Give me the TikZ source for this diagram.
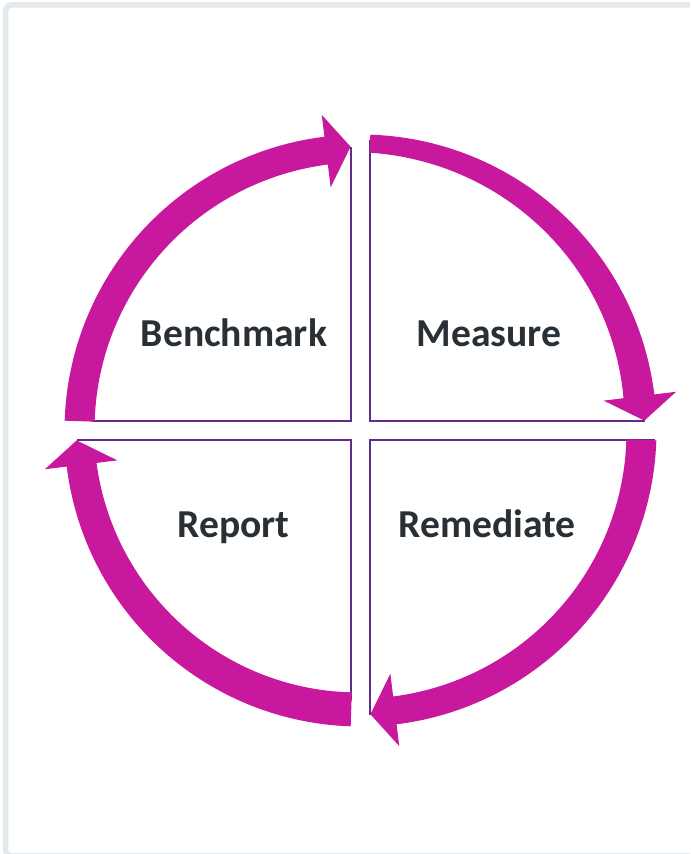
\documentclass[tikz,border=0pt]{standalone}
\usepackage{fontspec}
\setmainfont{Carlito}
\definecolor{arrowmag}{RGB}{200,24,158}
\definecolor{edgepurple}{RGB}{98,44,138}
\definecolor{labelgray}{RGB}{40,47,53}
\definecolor{framegray}{RGB}{228,233,238}
% #1 base angle, #2 inner radius at start, #3 inner radius at head
\newcommand{\cyarrow}[3]{%
  \pgfmathsetmacro{\cyA}{#1+1.9}%
  \pgfmathsetmacro{\cyB}{#1+83}%
  \pgfmathsetmacro{\cyT}{#1+88}%
  \pgfmathsetmacro{\cyRs}{#2}%
  \pgfmathsetmacro{\cyRe}{#3}%
  \fill[arrowfill] plot[domain=\cyA:\cyB,samples=60] ({360.5+296*cos(\x)},{430.5+296*sin(\x)})
    -- ({360.5+318*cos(\cyB)},{430.5+318*sin(\cyB)})
    -- ({360.5+284*cos(\cyT)},{430.5+284*sin(\cyT)})
    -- ({360.5+245*cos(\cyB)},{430.5+245*sin(\cyB)})
    -- plot[domain=\cyB:\cyA,samples=60] ({360.5+(\cyRs+(\cyRe-\cyRs)*(\x-\cyA)/(\cyB-\cyA))*cos(\x)},{430.5+(\cyRs+(\cyRe-\cyRs)*(\x-\cyA)/(\cyB-\cyA))*sin(\x)})
    -- cycle;}
\begin{document}
\begin{tikzpicture}[x=0.5pt,y=-0.5pt,
  arrowfill/.style={fill=arrowmag},
  quadedge/.style={draw=edgepurple,line width=1.3pt},
  steplabel/.style={text=labelgray,font=\fontsize{19.8pt}{22pt}\selectfont\bfseries,anchor=base,inner sep=0pt}]
\useasboundingbox (0,0) rectangle (690,854);
\clip (0,0) rectangle (690,854);
\fill[white] (0,0) rectangle (690,854);
\draw[framegray,line width=2.75pt,rounded corners=3pt] (5.5,5) rectangle (705,855.5);
% quadrant edges
\coordinate (bmtop) at (351,147);
\coordinate (bmcorner) at (351,421);
\coordinate (bmleft) at (92,421);
\coordinate (mstop) at (370,140);
\coordinate (mscorner) at (370,421);
\coordinate (msright) at (645,421);
\coordinate (rmright) at (655,440);
\coordinate (rmcorner) at (370,440);
\coordinate (rmbottom) at (370,715);
\coordinate (rpbottom) at (351,700);
\coordinate (rpcorner) at (351,440);
\coordinate (rpleft) at (77,440);
\draw[quadedge] (bmtop) -- (bmcorner) -- (bmleft);
\draw[quadedge] (mstop) -- (mscorner) -- (msright);
\draw[quadedge] (rmright) -- (rmcorner) -- (rmbottom);
\draw[quadedge] (rpbottom) -- (rpcorner) -- (rpleft);
% circular arrows
\cyarrow{180}{266}{268}
\cyarrow{270}{278}{265}
\cyarrow{0}{266}{268}
\cyarrow{90}{262}{266}
% labels
\node[steplabel] (benchmark) at (234,347) {Benchmark};
\node[steplabel] (measure) at (489,347) {Measure};
\node[steplabel] (report) at (233.5,537) {Report};
\node[steplabel] (remediate) at (487,537) {Remediate};
\end{tikzpicture}
\end{document}
